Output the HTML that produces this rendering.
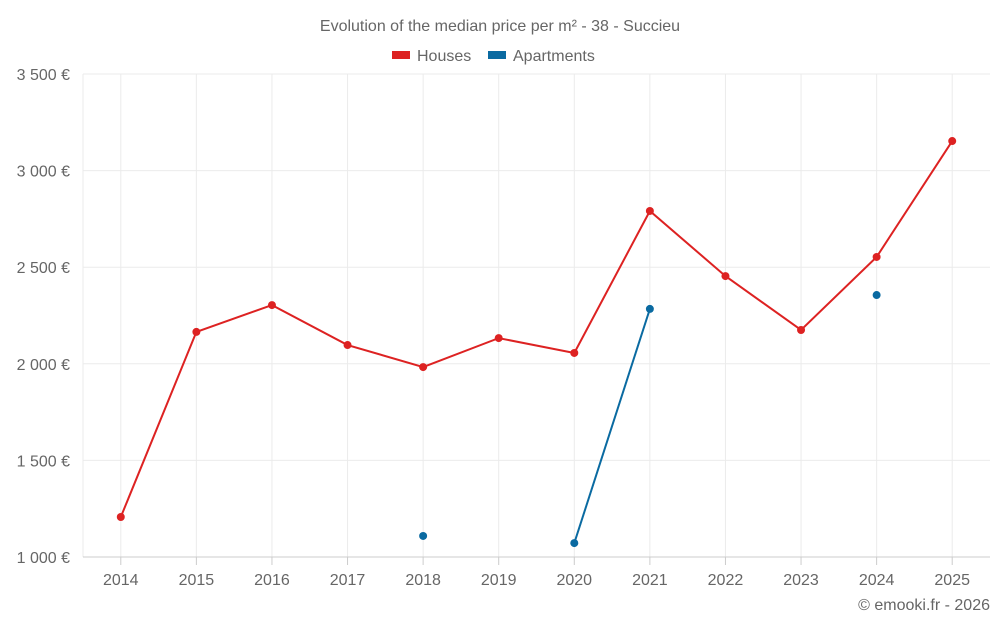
<!DOCTYPE html>
<html><head><meta charset="utf-8"><style>
body{margin:0;background:#fff;font-family:"Liberation Sans",sans-serif;}
svg text{font-family:"Liberation Sans",sans-serif;fill:#666;}
</style></head><body>
<svg id="chart" width="1000" height="625">
<text x="500" y="31" text-anchor="middle" font-size="16">Evolution of the median price per m² - 38 - Succieu</text>
<g>
<g><rect x="392" y="51" width="18" height="8" fill="#dd2222"/><text x="417" y="61" font-size="16">Houses</text></g>
<g><rect x="488" y="51" width="18" height="8" fill="#0a6aa1"/><text x="513" y="61" font-size="16">Apartments</text></g>
</g>
<g id="grid"></g><g id="axes"></g><g id="series"></g>
<text x="990" y="610" text-anchor="end" font-size="16">© emooki.fr - 2026</text>
</svg>
<script>
const years=[2014,2015,2016,2017,2018,2019,2020,2021,2022,2023,2024,2025];
const houses=[1207,2165,2304,2097,1983,2133,2056,2791,2454,2175,2553,3153];
const apartments=[null,null,null,null,1109,null,1072,2284,null,null,2356,null];
const yTicks=[1000,1500,2000,2500,3000,3500];
const yLabels=["1 000 €","1 500 €","2 000 €","2 500 €","3 000 €","3 500 €"];
const L=83,R=990,T=74,B=557,yMin=1000,yMax=3500;
const step=(R-L)/years.length;
const xs=i=>L+step*(i+0.5);
const ys=v=>B-(v-yMin)/(yMax-yMin)*(B-T);
const NS="http://www.w3.org/2000/svg";
function mk(tag,attrs,parent){const e=document.createElementNS(NS,tag);for(const k in attrs)e.setAttribute(k,attrs[k]);parent.appendChild(e);return e;}
const grid=document.getElementById('grid'),axes=document.getElementById('axes'),ser=document.getElementById('series');
yTicks.forEach((t,i)=>{
 const l=mk('line',{x1:L,x2:R,y1:ys(t),y2:ys(t),stroke:'#ebebeb'},grid);
 
 
 const tx=mk('text',{x:70,y:ys(t)+6,'text-anchor':'end','font-size':16},axes);
 tx.textContent=yLabels[i];
 
 
});
const l0=mk('line',{x1:L,x2:L,y1:T,y2:B,stroke:'#ebebeb'},grid);


years.forEach((y,i)=>{
 const l=mk('line',{x1:xs(i),x2:xs(i),y1:T,y2:B,stroke:'#ebebeb'},grid);
 
 
 const tk=mk('line',{x1:xs(i),x2:xs(i),y1:B,y2:B+8,stroke:'#ccc'},axes);
 
 
 const tx=mk('text',{x:xs(i),y:B+28,'text-anchor':'middle','font-size':16},axes);
 tx.textContent=y;
 
 
});
const ax=mk('line',{x1:L,x2:R,y1:B,y2:B,stroke:'#ccc'},axes);


function draw(vals,color,name){
 let d='',pen=false;
 vals.forEach((v,i)=>{if(v==null){pen=false;return;}d+=(pen?'L':'M')+xs(i)+' '+ys(v)+' ';pen=true;});
 const p=mk('path',{d:d,fill:'none',stroke:color,'stroke-width':2},ser);
 
 
 vals.forEach((v,i)=>{if(v==null)return;
  const c=mk('circle',{cx:xs(i),cy:ys(v),r:4,fill:color},ser);
  
  
 });
}
draw(houses,'#dd2222','houses');
draw(apartments,'#0a6aa1','apartments');
</script>
</body></html>
